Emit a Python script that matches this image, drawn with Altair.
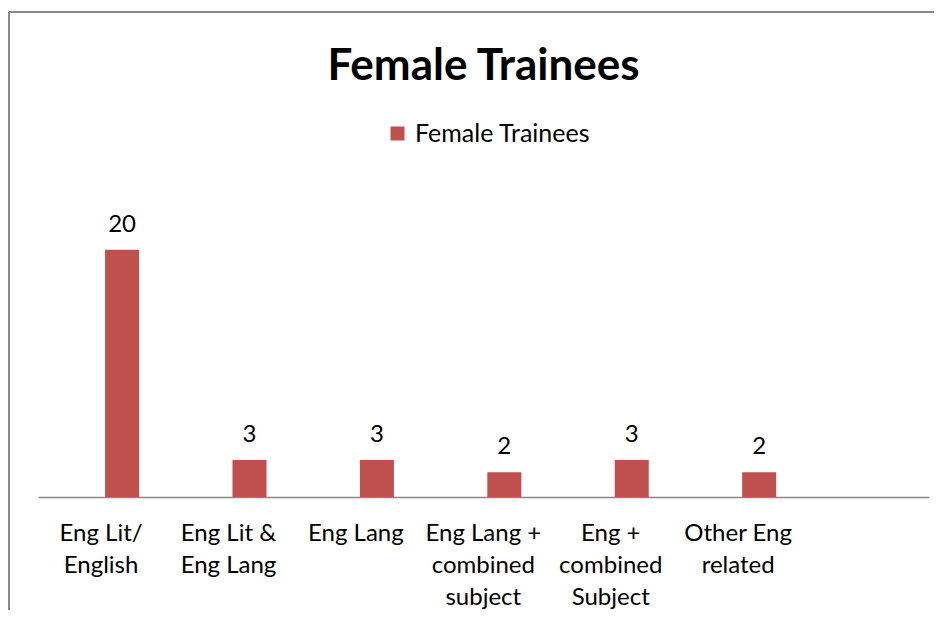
import altair as alt
import pandas as pd

categories = ["Eng Lit/|English", "Eng Lit &|Eng Lang", "Eng Lang",
              "Eng Lang +|combined|subject", "Eng +|combined|Subject", "Other Eng|related"]
values = [20, 3, 3, 2, 3, 2]
series = "Female Trainees"

df = pd.DataFrame({"cat": categories, "val": values, "series": [series] * len(values)})
title_df = pd.DataFrame({"t": [series]})

W, H = 891, 312
TOP = 177
FONT = "Lato"
RED = "#C0504D"

x_enc = alt.X("cat:N", sort=categories,
              scale=alt.Scale(paddingInner=0.733, paddingOuter=0.863, align=0.305),
              axis=alt.Axis(title=None, labelAngle=0, ticks=False, domainColor="#888888",
                            domainWidth=1.5, labelExpr="split(datum.label, '|')",
                            labelFont=FONT, labelFontSize=24, labelColor="#000000",
                            labelLineHeight=32, labelPadding=36, labelBaseline="middle",
                            labelOffset=-21))
y_enc = alt.Y("val:Q", scale=alt.Scale(domain=[0, 25.25], nice=False, zero=True), axis=None)

bars = alt.Chart(df).mark_bar(color=RED).encode(
    x=x_enc, y=y_enc,
    color=alt.Color("series:N", scale=alt.Scale(range=[RED]),
                    legend=alt.Legend(title=None, orient="none", legendX=347, legendY=-64,
                                      symbolType="square", symbolSize=196,
                                      symbolStrokeWidth=0, labelFont=FONT,
                                      labelFontSize=25, labelColor="#000000",
                                      labelLimit=400,
                                      symbolOffset=0, labelOffset=5)),
)

labels = alt.Chart(df).mark_text(font=FONT, fontSize=24, color="#000000",
                                 baseline="bottom", dy=-13).encode(
    x=alt.X("cat:N", sort=categories), y="val:Q", text="val:Q")

title = alt.Chart(title_df).mark_text(font=FONT, fontSize=44, fontWeight="bold",
                                      color="#000000", align="center",
                                      baseline="alphabetic").encode(
    x=alt.value(W / 2), y=alt.value(-105), text="t:N")

frame_left = alt.Chart(df).mark_rule(color="#888888", strokeWidth=1.5).encode(
    x=alt.value(-29), y=alt.value(-173), y2=alt.value(H + 140))
frame_top = alt.Chart(df).mark_rule(color="#888888", strokeWidth=1.5).encode(
    x=alt.value(-29), x2=alt.value(W + 20), y=alt.value(-173))

chart = alt.layer(frame_left, frame_top, bars, labels, title).properties(
    width=W, height=H,
    padding={"left": 30, "top": TOP, "right": 5, "bottom": 113},
    autosize=alt.AutoSizeParams(type="none"),
).configure_view(stroke=None)

chart.save("out.html", embed_options={"renderer": "svg", "actions": False})
